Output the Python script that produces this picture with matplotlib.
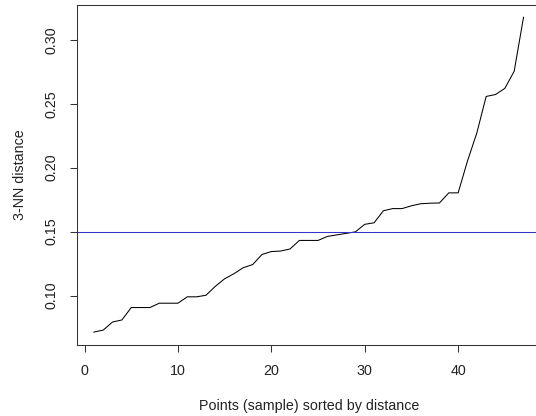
import numpy as np
import matplotlib
matplotlib.use('Agg')
import matplotlib.pyplot as plt

# sorted 3-NN distances
knn_dist = [0.0714, 0.0730, 0.0793, 0.0809, 0.0906, 0.0906, 0.0906, 0.0940,
            0.0940, 0.0940, 0.0990, 0.0990, 0.1002, 0.1072, 0.1131, 0.1171,
            0.1218, 0.1242, 0.1321, 0.1344, 0.1348, 0.1364, 0.1431, 0.1431,
            0.1431, 0.1462, 0.1474, 0.1486, 0.1498, 0.1557, 0.1569, 0.1663,
            0.1680, 0.1680, 0.1702, 0.1718, 0.1722, 0.1724, 0.1803, 0.1803,
            0.2052, 0.2271, 0.2557, 0.2572, 0.2620, 0.2754, 0.3176]
eps = 0.15
x_ticks = [0, 10, 20, 30, 40]
y_ticks = [0.10, 0.15, 0.20, 0.25, 0.30]

plt.rcParams['font.family'] = ['Liberation Sans', 'DejaVu Sans']

fig = plt.figure(figsize=(5.36, 4.16), dpi=100)
# plot region runs a bit past the right edge of the image, as in the reference
ax = fig.add_axes([76.7 / 536, 71.3 / 416, 464 / 536, 340 / 416])

pts = np.arange(1, len(knn_dist) + 1)
ax.plot(pts, knn_dist, color='black', lw=0.75)
ax.axhline(eps, color='#3434c8', lw=0.75)

# R-style 4% axis extension
def r_lim(lo, hi):
    d = (hi - lo) * 0.04
    return lo - d, hi + d

ax.set_xlim(*r_lim(pts.min(), pts.max()))
ax.set_ylim(*r_lim(min(knn_dist), max(knn_dist)))

ax.set_xticks(x_ticks)
ax.set_xticklabels([str(t) for t in x_ticks])
ax.set_yticks(y_ticks)
ax.set_yticklabels(['%.2f' % t for t in y_ticks], rotation=90, va='center')

for s in ax.spines.values():
    s.set_color('#333333')
    s.set_linewidth(0.75)
ax.tick_params(direction='out', length=5, width=0.75, color='#333333',
               labelsize=10.3, pad=9, labelcolor='#222222')
ax.tick_params(axis='y', pad=8)

ax.set_xlabel('Points (sample) sorted by distance', fontsize=10.3, labelpad=15, color='#222222')
ax.set_ylabel('3-NN distance', fontsize=10.3, labelpad=13, color='#222222')

fig.savefig('out.png', dpi=100)
